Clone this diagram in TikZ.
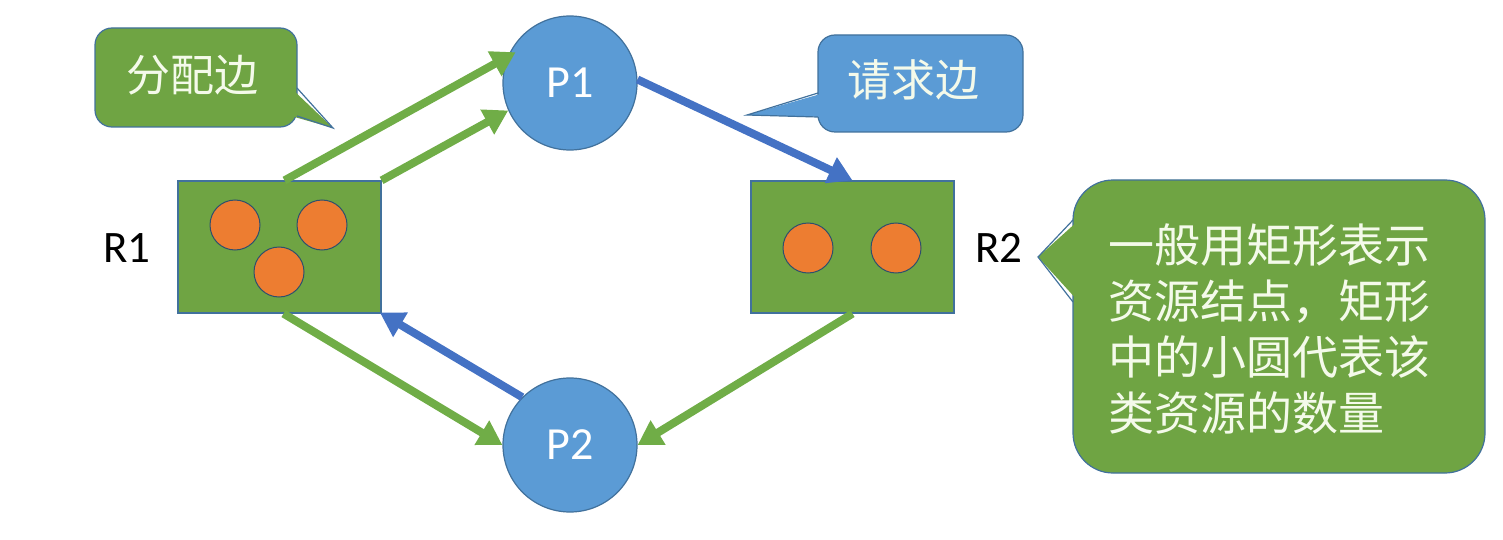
\documentclass[tikz,border=0pt]{standalone}
\usepackage{fontspec}
\setmainfont{Carlito}
\newfontfamily\cjk{Noto Sans CJK SC}
\usetikzlibrary{arrows.meta}
\definecolor{gfill}{HTML}{6FA443}
\definecolor{garr}{HTML}{70AD47}
\definecolor{bfill}{HTML}{5B9BD5}
\definecolor{barr}{HTML}{4472C4}
\definecolor{edgec}{HTML}{41719C}
\definecolor{ofill}{HTML}{ED7D31}
\definecolor{ctext}{HTML}{F4FAEA}
\begin{document}
\begin{tikzpicture}[x=1pt,y=-1pt,
  proc/.style={circle, draw=edgec, fill=bfill, line width=1.2pt, minimum size=134pt, inner sep=0pt,
    text=white, font=\fontsize{46}{52}\selectfont},
  res/.style={rectangle, draw=edgec, fill=gfill, line width=1.2pt, minimum width=203pt, minimum height=132pt, inner sep=0pt},
  unit/.style={circle, draw=edgec!70!black, fill=ofill, line width=1pt, minimum size=50pt, inner sep=0pt},
  lbl/.style={font=\fontsize{45}{50}\selectfont, text=black, inner sep=0pt},
  cbox/.style={rectangle, draw=edgec, line width=1.2pt, inner sep=0pt},
  ctxt/.style={font=\cjk\fontsize{44}{50}\selectfont, text=ctext, inner sep=0pt, anchor=base},
  btxt/.style={font=\cjk\fontsize{46}{56}\selectfont, text=ctext, inner sep=0pt, anchor=base west},
  garrow/.style={draw=garr, line width=8pt, -{Triangle[length=24pt,width=27pt]}},
  barrow/.style={draw=barr, line width=8pt, -{Triangle[length=24pt,width=27pt]}}
]
\useasboundingbox (0,0) rectangle (1503,540);

% process nodes
\node[proc] (P1) at (570,83) {P1};
\node[proc] (P2) at (570,445) {P2};

% resource nodes
\node[res] (R1) at (279.5,247) {};
\node[res] (R2) at (852.5,247) {};
\node[unit] (u1) at (235,225) {};
\node[unit] (u2) at (322,225) {};
\node[unit] (u3) at (279,272) {};
\node[unit] (u4) at (808,248) {};
\node[unit] (u5) at (896,248) {};

\node[lbl] (L1) at (127,248) {R1};
\node[lbl] (L2) at (999,248) {R2};

% edges
\draw[garrow, shorten >=-9pt] ([xshift=5pt]R1.north) -- (P1.157);
\draw[garrow] (R1.north east) -- (P1.204);
\draw[barrow] (P1.3) -- (R2.north);
\draw[garrow] ([xshift=4pt]R1.south) -- (P2.west);
\draw[barrow, shorten >=-2pt] (P2.135) -- (R1.south east);
\draw[garrow] (R2.south) -- (P2.east);

% callout: allocation edge
\node[cbox, fill=gfill, rounded corners=17pt, minimum width=202pt, minimum height=99pt] (C1) at (196,77.5) {};
\coordinate (C1a) at (295,88);
\coordinate (C1t) at (333,128);
\coordinate (C1b) at (295,116);
\fill[gfill] ([xshift=-4pt]C1a) -- (C1t) -- ([xshift=-4pt]C1b) -- cycle;
\draw[edgec, line width=1.2pt, line join=miter] ([xshift=2pt]C1a) -- (C1t) -- ([xshift=2pt]C1b);
\node[ctxt] (T1) at (192,92) {分配边};

% callout: request edge
\node[cbox, fill=bfill, rounded corners=17pt, minimum width=205pt, minimum height=97pt] (C2) at (920.5,83.5) {};
\coordinate (C2a) at (820,93);
\coordinate (C2t) at (747,115);
\coordinate (C2b) at (820,117);
\fill[bfill] ([xshift=4pt]C2a) -- (C2t) -- ([xshift=4pt]C2b) -- cycle;
\draw[edgec, line width=1.2pt, line join=miter] ([xshift=-2pt]C2a) -- (C2t) -- ([xshift=-2pt]C2b);
\node[ctxt] (T2) at (913,97) {请求边};

% callout: explanation
\node[cbox, fill=gfill, rounded corners=40pt, minimum width=412pt, minimum height=293pt] (C3) at (1279,326.5) {};
\coordinate (C3a) at (1075,220);
\coordinate (C3t) at (1038,257);
\coordinate (C3b) at (1075,302);
\fill[gfill] ([xshift=4pt]C3a) -- (C3t) -- ([xshift=4pt]C3b) -- cycle;
\draw[edgec, line width=1.2pt, line join=miter] ([xshift=-2pt]C3a) -- (C3t) -- ([xshift=-2pt]C3b);
\node[btxt] (E1) at (1108,262) {一般用矩形表示};
\node[btxt] (E2) at (1108,318) {资源结点，矩形};
\node[btxt] (E3) at (1108,374) {中的小圆代表该};
\node[btxt] (E4) at (1108,430) {类资源的数量};
\end{tikzpicture}
\end{document}
